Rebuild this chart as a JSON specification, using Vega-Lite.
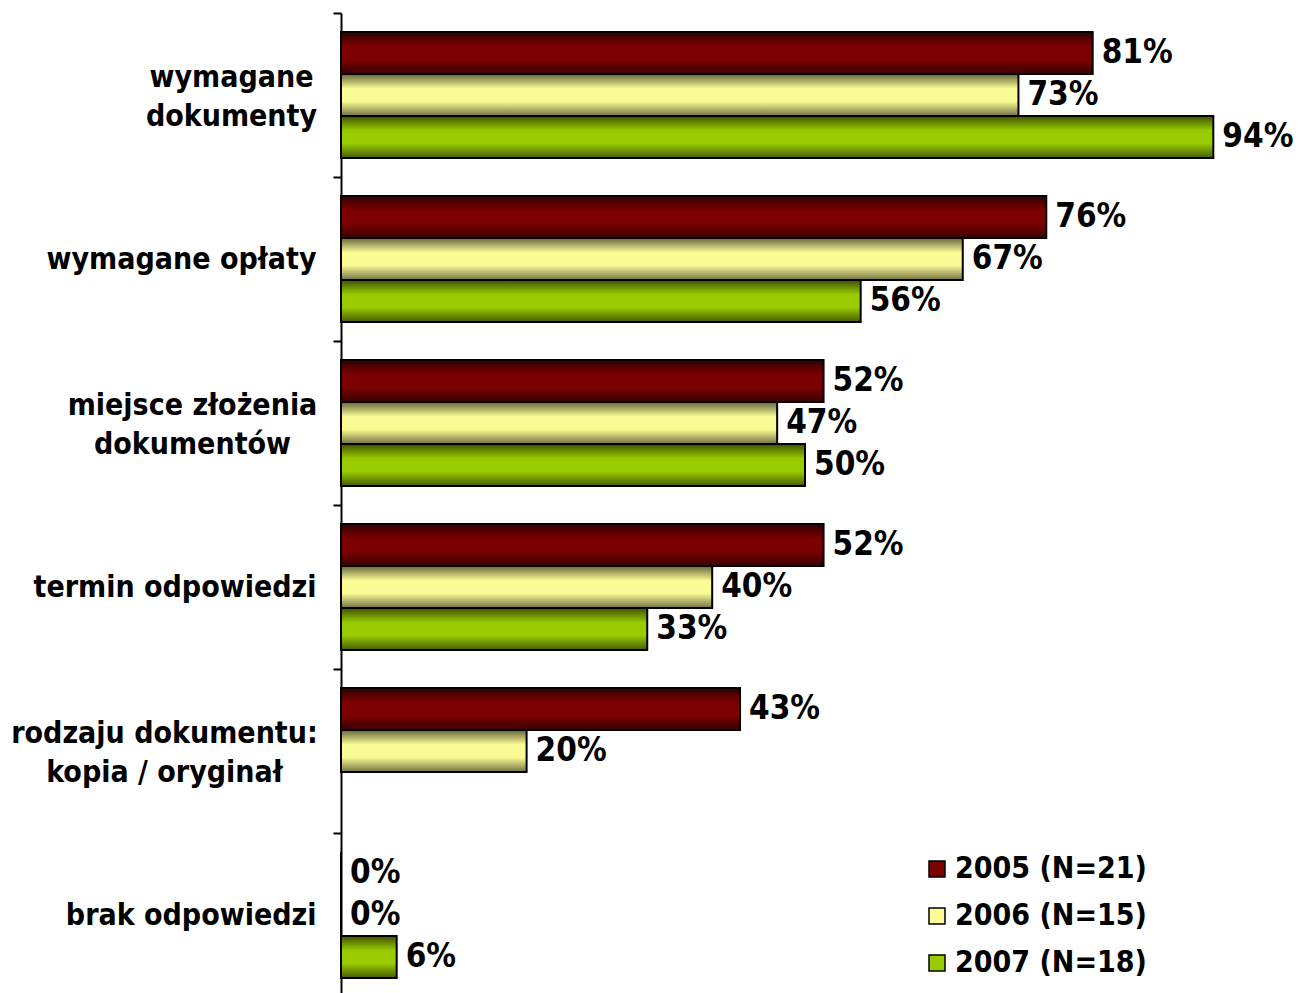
{
  "$schema": "https://vega.github.io/schema/vega-lite/v6.json",
  "autosize": {"type": "none"},
  "padding": {"left": 341, "top": 13, "right": 30, "bottom": 0},
  "width": 928,
  "height": 984,
  "background": "white",
  "config": {
    "view": {"stroke": null},
    "font": "DejaVu Sans Condensed, DejaVu Sans"
  },
  "data": {
    "values": [
      {"kategoria": "wymagane dokumenty", "rok": "2005 (N=21)", "udzial": 0.81},
      {"kategoria": "wymagane dokumenty", "rok": "2006 (N=15)", "udzial": 0.73},
      {"kategoria": "wymagane dokumenty", "rok": "2007 (N=18)", "udzial": 0.94},
      {"kategoria": "wymagane opłaty", "rok": "2005 (N=21)", "udzial": 0.76},
      {"kategoria": "wymagane opłaty", "rok": "2006 (N=15)", "udzial": 0.67},
      {"kategoria": "wymagane opłaty", "rok": "2007 (N=18)", "udzial": 0.56},
      {"kategoria": "miejsce złożenia dokumentów", "rok": "2005 (N=21)", "udzial": 0.52},
      {"kategoria": "miejsce złożenia dokumentów", "rok": "2006 (N=15)", "udzial": 0.47},
      {"kategoria": "miejsce złożenia dokumentów", "rok": "2007 (N=18)", "udzial": 0.50},
      {"kategoria": "termin odpowiedzi", "rok": "2005 (N=21)", "udzial": 0.52},
      {"kategoria": "termin odpowiedzi", "rok": "2006 (N=15)", "udzial": 0.40},
      {"kategoria": "termin odpowiedzi", "rok": "2007 (N=18)", "udzial": 0.33},
      {"kategoria": "rodzaju dokumentu: kopia / oryginał", "rok": "2005 (N=21)", "udzial": 0.43},
      {"kategoria": "rodzaju dokumentu: kopia / oryginał", "rok": "2006 (N=15)", "udzial": 0.20},
      {"kategoria": "brak odpowiedzi", "rok": "2005 (N=21)", "udzial": 0},
      {"kategoria": "brak odpowiedzi", "rok": "2006 (N=15)", "udzial": 0},
      {"kategoria": "brak odpowiedzi", "rok": "2007 (N=18)", "udzial": 0.06}
    ]
  },
  "encoding": {
    "y": {
      "field": "kategoria",
      "type": "nominal",
      "sort": null,
      "title": null,
      "scale": {"paddingInner": 0, "paddingOuter": 0},
      "axis": {
        "tickBand": "extent",
        "domainColor": "black",
        "domainWidth": 2,
        "tickColor": "black",
        "tickWidth": 2,
        "tickSize": 8,
        "labelFontWeight": "bold",
        "labelFontSize": 30,
        "labelColor": "black",
        "labelLineHeight": 39,
        "labelLimit": 400,
        "labelAlign": {
          "condition": {
            "test": "datum.value == 'wymagane dokumenty' || datum.value == 'miejsce złożenia dokumentów' || datum.value == 'rodzaju dokumentu: kopia / oryginał'",
            "value": "center"
          },
          "value": "right"
        },
        "labelPadding": {
          "condition": [
            {"test": "datum.value == 'wymagane dokumenty'", "value": 102},
            {"test": "datum.value == 'miejsce złożenia dokumentów'", "value": 141},
            {"test": "datum.value == 'rodzaju dokumentu: kopia / oryginał'", "value": 169}
          ],
          "value": 17
        },
        "labelOffset": {
          "condition": {
            "test": "datum.value == 'wymagane dokumenty' || datum.value == 'miejsce złożenia dokumentów' || datum.value == 'rodzaju dokumentu: kopia / oryginał'",
            "value": -18
          },
          "value": 0
        },
        "labelExpr": "datum.label == 'wymagane dokumenty' ? ['wymagane', 'dokumenty'] : datum.label == 'miejsce złożenia dokumentów' ? ['miejsce złożenia', 'dokumentów'] : datum.label == 'rodzaju dokumentu: kopia / oryginał' ? ['rodzaju dokumentu:', 'kopia / oryginał'] : datum.label"
      }
    },
    "yOffset": {
      "field": "rok",
      "type": "nominal",
      "sort": ["2005 (N=21)", "2006 (N=15)", "2007 (N=18)"],
      "scale": {"paddingInner": 0, "paddingOuter": 0.4524}
    },
    "x": {
      "field": "udzial",
      "type": "quantitative",
      "scale": {"domain": [0, 1], "nice": false},
      "axis": null
    }
  },
  "layer": [
    {
      "mark": {"type": "bar"},
      "encoding": {
        "color": {
          "field": "rok",
          "type": "nominal",
          "scale": {
            "domain": ["2005 (N=21)", "2006 (N=15)", "2007 (N=18)"],
            "range": ["#7c0000", "#fcfc96", "#99cc00"]
          },
          "legend": {
            "title": null,
            "orient": "none",
            "legendX": 581,
            "legendY": 841,
            "padding": 0,
            "symbolType": "square",
            "symbolSize": 256,
            "symbolStrokeColor": "black",
            "symbolStrokeWidth": 1.5,
            "labelFontWeight": "bold",
            "labelFontSize": 30,
            "labelColor": "black",
            "labelOffset": 3,
            "labelLimit": 400,
            "rowPadding": 17
          }
        }
      }
    },
    {
      "mark": {
        "type": "bar",
        "stroke": "black",
        "strokeWidth": 2,
        "fill": {
          "gradient": "linear",
          "x1": 0, "y1": 0, "x2": 0, "y2": 1,
          "stops": [
            {"offset": 0, "color": "rgba(0,0,0,0.6)"},
            {"offset": 0.35, "color": "rgba(0,0,0,0)"},
            {"offset": 0.65, "color": "rgba(0,0,0,0)"},
            {"offset": 1, "color": "rgba(0,0,0,0.55)"}
          ]
        }
      }
    },
    {
      "mark": {
        "type": "text",
        "align": "left",
        "baseline": "middle",
        "dx": 9,
        "fontWeight": "bold",
        "fontSize": 33,
        "color": "black"
      },
      "encoding": {
        "text": {"field": "udzial", "type": "quantitative", "format": ".0%"}
      }
    }
  ]
}
